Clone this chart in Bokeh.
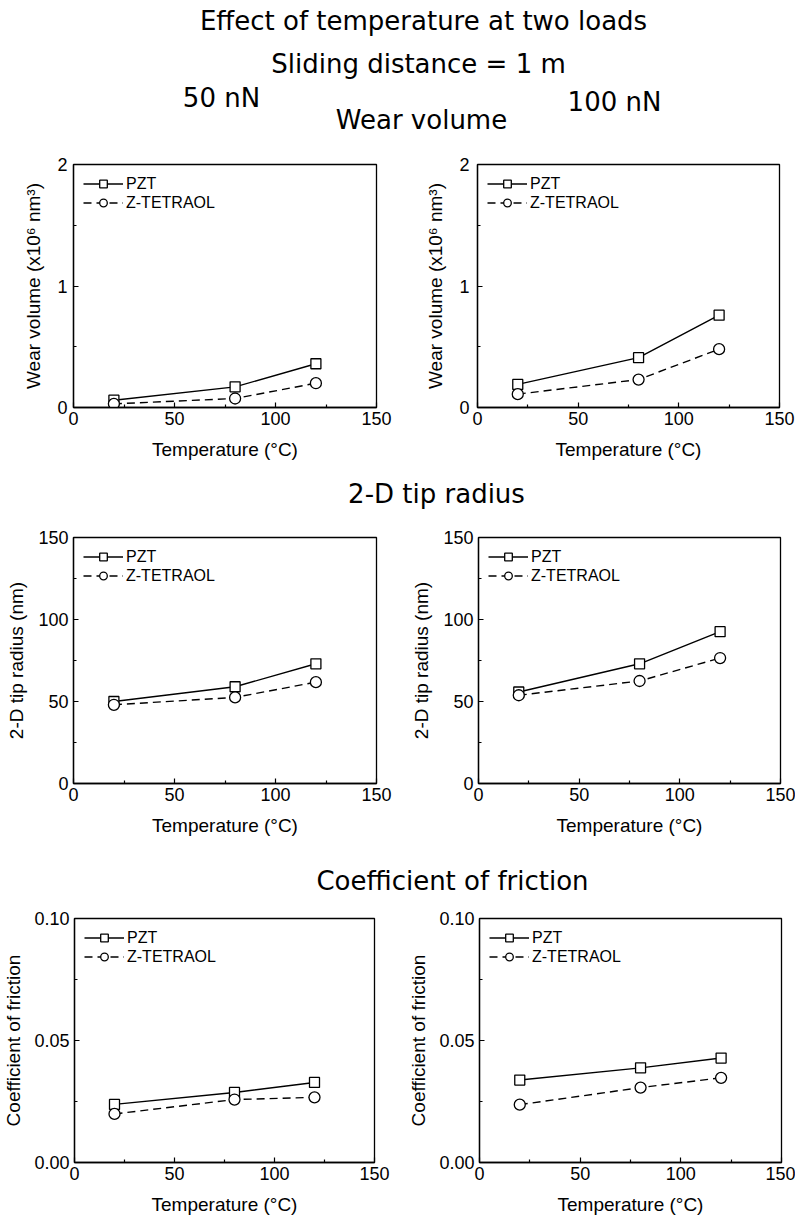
from bokeh.plotting import figure
from bokeh.models import (Range1d, FixedTicker, Label, Legend, LegendItem,
                          NumeralTickFormatter)
from bokeh.layouts import column, row
from bokeh.embed import file_html
from bokeh.resources import INLINE

# ---------------- data ----------------
temps = [20, 80, 120]

wear_50_pzt = [0.06, 0.17, 0.36]
wear_50_zt = [0.03, 0.074, 0.20]
wear_100_pzt = [0.19, 0.41, 0.76]
wear_100_zt = [0.11, 0.23, 0.48]

tip_50_pzt = [50, 59, 73]
tip_50_zt = [48, 52.5, 61.8]
tip_100_pzt = [55.8, 73, 92.6]
tip_100_zt = [53.8, 62.5, 76.5]

cof_50_pzt = [0.0238, 0.0287, 0.0328]
cof_50_zt = [0.0199, 0.0258, 0.0267]
cof_100_pzt = [0.0338, 0.0388, 0.0428]
cof_100_zt = [0.0237, 0.0307, 0.0347]

series_names = ["PZT", "Z-TETRAOL"]
x_ticks = [0, 50, 100, 150]
x_minor = [25, 75, 125]

FONT = "Liberation Sans"
HFONT = "DejaVu Sans"


def panel(pzt, zt, ylab, yr, yticks, yminor, fmt, left, right, width, height,
          top, bottom, label_standoff, ylab_standoff):
    p = figure(width=width, height=height, output_backend="svg",
               toolbar_location=None, x_range=Range1d(0, 150),
               y_range=Range1d(*yr), min_border_left=left,
               min_border_right=right,
               min_border_top=top, min_border_bottom=bottom)
    p.grid.visible = False
    p.outline_line_color = "black"
    p.outline_line_width = 1.3
    p.background_fill_color = "white"
    p.border_fill_color = "white"
    for ax in (p.xaxis[0], p.yaxis[0]):
        ax.axis_line_color = "black"
        ax.axis_line_width = 1.3
        ax.major_tick_in = 5
        ax.major_tick_out = 0
        ax.minor_tick_in = 3
        ax.minor_tick_out = 0
        ax.major_tick_line_color = "black"
        ax.minor_tick_line_color = "black"
        ax.major_tick_line_width = 1.2
        ax.minor_tick_line_width = 1.2
        ax.major_label_text_font = FONT
        ax.major_label_text_font_size = "18px"
        ax.major_label_text_color = "black"
        ax.axis_label_text_font = FONT
        ax.axis_label_text_font_size = "19px"
        ax.axis_label_text_font_style = "normal"
        ax.axis_label_text_color = "black"
    p.xaxis.ticker = FixedTicker(ticks=x_ticks, minor_ticks=x_minor)
    p.yaxis.ticker = FixedTicker(ticks=yticks, minor_ticks=yminor)
    if fmt:
        p.yaxis.formatter = NumeralTickFormatter(format=fmt)
    p.xaxis.axis_label = "Temperature (°C)"
    p.yaxis.axis_label = ylab
    p.xaxis.major_label_standoff = 4
    p.xaxis.axis_label_standoff = 11
    p.yaxis.major_label_standoff = label_standoff
    p.yaxis.axis_label_standoff = ylab_standoff

    l1 = p.line(temps, pzt, line_color="black", line_width=1.4)
    s1 = p.scatter(temps, pzt, marker="square", size=10, fill_color="white",
                   line_color="black", line_width=1.3)
    l2 = p.line(temps, zt, line_color="black", line_width=1.4,
                line_dash="8 5")
    s2 = p.scatter(temps, zt, marker="circle", size=11, fill_color="white",
                   line_color="black", line_width=1.3)
    leg = Legend(items=[LegendItem(label=series_names[0], renderers=[l1, s1]),
                        LegendItem(label=series_names[1], renderers=[l2, s2])],
                 location="top_left", border_line_color=None,
                 background_fill_alpha=0, margin=10, padding=2, spacing=0,
                 glyph_width=40, glyph_height=19, label_height=19,
                 label_standoff=3, label_text_font=FONT,
                 label_text_font_size="16px", label_text_color="black")
    p.add_layout(leg)
    return p


def textfig(width, height, items):
    f = figure(width=width, height=height, output_backend="svg",
               toolbar_location=None, x_range=Range1d(0, width),
               y_range=Range1d(0, height), min_border=0)
    f.axis.visible = False
    f.grid.visible = False
    f.outline_line_color = None
    for (txt, x, y) in items:
        f.add_layout(Label(x=x, y=y, x_units="screen", y_units="screen",
                           text=txt, text_align="center",
                           text_baseline="middle", text_font=HFONT,
                           text_font_size="26px", text_color="black"))
    return f


W = 795
LW, RW = 400, 395   # left / right figure widths

header = textfig(W, 140, [("Effect of temperature at two loads", 423, 120),
                          ("Sliding distance = 1 m", 418, 77),
                          ("50 nN", 221, 43),
                          ("100 nN", 614, 39),
                          ("Wear volume", 421, 21)])

wear_lab = "Wear volume (x10⁶ nm³)"
r1 = row(
    panel(wear_50_pzt, wear_50_zt, wear_lab, (0, 2), [0, 1, 2], [0.5, 1.5], None,
          73, 24, LW, 332, 24, 65, 6, 10),
    panel(wear_100_pzt, wear_100_zt, wear_lab, (0, 2), [0, 1, 2], [0.5, 1.5], None,
          77, 16, RW, 332, 24, 65, 8, 10),
)

sec2 = textfig(W, 40, [("2-D tip radius", 436, 19)])

tip_lab = "2-D tip radius (nm)"
r2 = row(
    panel(tip_50_pzt, tip_50_zt, tip_lab, (0, 150), x_ticks, x_minor, None,
          73, 24, LW, 340, 25, 69, 5, 8),
    panel(tip_100_pzt, tip_100_zt, tip_lab, (0, 150), x_ticks, x_minor, None,
          78, 15, RW, 340, 25, 69, 5, 8),
)

sec3 = textfig(W, 43, [("Coefficient of friction", 452, 15)])

cof_lab = "Coefficient of friction"
r3 = row(
    panel(cof_50_pzt, cof_50_zt, cof_lab, (0, 0.10), [0, 0.05, 0.10],
          [0.025, 0.075], "0.00", 71, 26, LW, 327, 23, 60, 5, 7),
    panel(cof_100_pzt, cof_100_zt, cof_lab, (0, 0.10), [0, 0.05, 0.10],
          [0.025, 0.075], "0.00", 79, 14, RW, 327, 23, 60, 5, 7),
)

layout = column(header, r1, sec2, r2, sec3, r3)

open("out.html", "w").write(file_html(layout, INLINE))
